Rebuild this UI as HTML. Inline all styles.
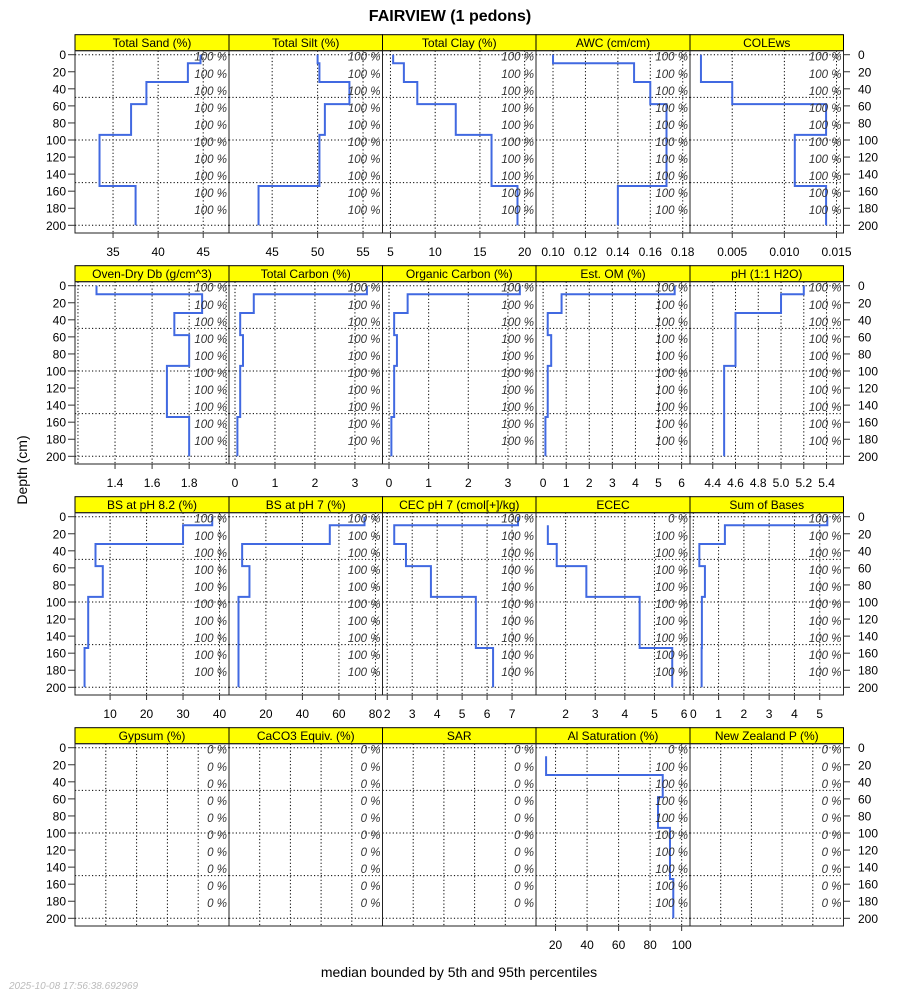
<!DOCTYPE html>
<html><head><meta charset="utf-8">
<style>
html,body{margin:0;padding:0;background:#fff;}
svg{display:block;font-family:"Liberation Sans",sans-serif;}
</style></head>
<body>
<svg id="chart" width="900" height="1000" viewBox="0 0 900 1000" xmlns="http://www.w3.org/2000/svg">
<text x="450" y="21" text-anchor="middle" font-size="16" font-weight="bold">FAIRVIEW (1 pedons)</text>
<text x="0" y="0" transform="translate(27,470) rotate(-90)" text-anchor="middle" font-size="14">Depth (cm)</text>
<text x="459" y="977" text-anchor="middle" font-size="14">median bounded by 5th and 95th percentiles</text>
<text x="9" y="989" font-size="10" font-style="italic" fill="#bbb">2025-10-08 17:56:38.692969</text>
<g id="panels"></g>
</svg>
<script>
// horizon boundaries (cm)
const horizonTops = [0, 10, 32, 58, 94, 154];
const horizonBottoms = [10, 32, 58, 94, 154, 200];
const depthTicks = [0, 20, 40, 60, 80, 100, 120, 140, 160, 180, 200];
const depthGrid = [0, 50, 100, 150, 200];
const pctDepths = [0, 20, 40, 60, 80, 100, 120, 140, 160, 180];

const panelTitles = ["Total Sand (%)","Total Silt (%)","Total Clay (%)","AWC (cm/cm)","COLEws",
 "Oven-Dry Db (g/cm^3)","Total Carbon (%)","Organic Carbon (%)","Est. OM (%)","pH (1:1 H2O)",
 "BS at pH 8.2 (%)","BS at pH 7 (%)","CEC pH 7 (cmol[+]/kg)","ECEC","Sum of Bases",
 "Gypsum (%)","CaCO3 Equiv. (%)","SAR","Al Saturation (%)","New Zealand P (%)"];

const sandValues = [44.7, 43.3, 38.7, 37.0, 33.5, 37.5];
const siltValues = [50.0, 50.2, 53.5, 50.8, 50.2, 43.5];
const clayValues = [5.3, 6.5, 8.0, 12.3, 16.3, 19.2];
const awcValues = [0.10, 0.15, 0.16, 0.17, 0.17, 0.14];
const coleValues = [0.002, 0.002, 0.005, 0.014, 0.011, 0.014];
const dbValues = [1.30, 1.87, 1.72, 1.80, 1.68, 1.80];
const tcValues = [3.3, 0.47, 0.13, 0.2, 0.13, 0.06];
const ocValues = [3.3, 0.47, 0.13, 0.2, 0.13, 0.06];
const omValues = [5.7, 0.8, 0.2, 0.35, 0.2, 0.1];
const phValues = [5.2, 5.0, 4.6, 4.6, 4.5, 4.5];
const bs82Values = [38, 30, 6, 8, 4, 3];
const bs7Values = [74, 55, 7, 11, 5, 5];
const cecValues = [7.24, 2.28, 2.75, 3.75, 5.55, 6.24];
const ececValues = [null, 1.4, 1.7, 2.7, 4.5, 5.6];
const sbValues = [5.3, 1.25, 0.24, 0.46, 0.34, 0.33];
const gypsumValues = [null, null, null, null, null, null];
const caco3Values = [null, null, null, null, null, null];
const sarValues = [null, null, null, null, null, null];
const alsatValues = [null, 14, 88, 85, 92.6, 94.7];
const nzpValues = [null, null, null, null, null, null];

const panelValues = [sandValues, siltValues, clayValues, awcValues, coleValues,
 dbValues, tcValues, ocValues, omValues, phValues,
 bs82Values, bs7Values, cecValues, ececValues, sbValues,
 gypsumValues, caco3Values, sarValues, alsatValues, nzpValues];

const panelTickLabels = [["35","40","45"],["45","50","55"],["5","10","15","20"],["0.10","0.12","0.14","0.16","0.18"],["0.005","0.010","0.015"],
 ["1.4","1.6","1.8"],["0","1","2","3"],["0","1","2","3"],["0","1","2","3","4","5","6"],["4.4","4.6","4.8","5.0","5.2","5.4"],
 ["10","20","30","40"],["20","40","60","80"],["2","3","4","5","6","7"],["2","3","4","5","6"],["0","1","2","3","4","5"],
 [],[],[],["20","40","60","80","100"],[]];
const panelMinorTicks = [[],[],[],[],[],["1.2","2.0"],[],[],[],["4.2"],[],[],[],[],[],["1","2","3","4"],["1","2","3","4"],["1","2","3","4"],[],["1","2","3","4"]];

const panelDomains = [[30.78,47.86],[40.25,57.14],[4.11,21.27],[0.0895,0.1845],[0.00095,0.01567],
 [1.184,2.015],[-0.15,3.69],[-0.164,3.708],[-0.308,6.364],[4.2,5.549],
 [0.38,42.6],[-0.2,83.86],[1.81,7.96],[1.0,6.2],[-0.13,5.94],
 [0,5],[0,5],[0,5],[7.6,105.3],[0,5]];

const colLefts = [75, 229, 382.5, 536, 690, 843.5];
const NS = "http://www.w3.org/2000/svg";
const root = document.getElementById("panels");
function mk(tag, attrs, parent) {
  const e = document.createElementNS(NS, tag);
  for (const k in attrs) e.setAttribute(k, attrs[k]);
  (parent || root).appendChild(e);
  return e;
}
const rowStep = 231;
function yScale(r, d) { return 54.7 + rowStep * r + 0.853 * d; }

for (let p = 0; p < 20; p++) {
  const r = Math.floor(p / 5), c = p % 5;
  const L = colLefts[c], R = colLefts[c + 1];
  const dom = panelDomains[p];
  const xs = v => L + (v - dom[0]) / (dom[1] - dom[0]) * (R - L);
  const top = 50.7 + rowStep * r, bot = 233 + rowStep * r;
  const g = mk("g", {});
  
  
  // grid
  const gridVals = panelTickLabels[p].concat(panelMinorTicks[p]);
  gridVals.forEach(t => {
    const x = xs(parseFloat(t));
    const gl = mk("line", {x1: x, x2: x, y1: top, y2: bot, stroke: "#000", "stroke-width": 1, "stroke-dasharray": "1.2,2.2"}, g);
    
    
  });
  depthGrid.forEach(d => {
    const y = yScale(r, d);
    const gl = mk("line", {x1: L, x2: R, y1: y, y2: y, stroke: "#000", "stroke-width": 1, "stroke-dasharray": "1.2,2.2"}, g);
    
    
  });
  // series
  const vals = panelValues[p];
  let pts = [];
  for (let i = 0; i < vals.length; i++) {
    if (vals[i] === null) continue;
    const x = xs(vals[i]);
    pts.push(x + "," + yScale(r, horizonTops[i]));
    pts.push(x + "," + yScale(r, horizonBottoms[i]));
  }
  if (pts.length) {
    const ln = mk("polyline", {points: pts.join(" "), fill: "none", stroke: "#4169E1", "stroke-width": 2, "stroke-linejoin": "miter"}, g);
    
    
  }
  // pct labels
  const empty = vals.every(v => v === null);
  pctDepths.forEach((d, i) => {
    let lbl = "100 %";
    if (empty) lbl = "0 %";
    else if (i === 0 && vals[0] === null) lbl = "0 %";
    const t = mk("text", {x: R - 2, y: yScale(r, d) + 6, "text-anchor": "end", "font-size": 11.5, "font-style": "italic", fill: "#333"}, g);
    t.textContent = lbl;
    
    
  });
  // strip
  const st = mk("rect", {x: L, y: 34.7 + rowStep * r, width: R - L, height: 16, fill: "#ffff00", stroke: "#000", "stroke-width": 1}, g);
  
  
  const stt = mk("text", {x: (L + R) / 2, y: 47 + rowStep * r, "text-anchor": "middle", "font-size": 12}, g);
  stt.textContent = panelTitles[p];
  
  
  // box
  const bx = mk("rect", {x: L, y: top, width: R - L, height: bot - top, fill: "none", stroke: "#222", "stroke-width": 1}, g);
  
  
  // x ticks
  panelTickLabels[p].forEach(t => {
    const x = xs(parseFloat(t));
    const tk = mk("line", {x1: x, x2: x, y1: bot, y2: bot + 5, stroke: "#333"}, g);
    
    
    const tl = mk("text", {x: x, y: bot + 23, "text-anchor": "middle", "font-size": 12}, g);
    tl.textContent = t;
    
    
  });
}
// depth axes
for (let r = 0; r < 4; r++) {
  depthTicks.forEach(d => {
    const y = yScale(r, d);
    const a = mk("line", {x1: 68, x2: 75, y1: y, y2: y, stroke: "#333"});
    
    
    const b = mk("line", {x1: 843.5, x2: 850, y1: y, y2: y, stroke: "#333"});
    
    
    const t1 = mk("text", {x: 66, y: y + 4.5, "text-anchor": "end", "font-size": 12});
    t1.textContent = d;
    
    
    const t2 = mk("text", {x: 858, y: y + 4.5, "text-anchor": "start", "font-size": 12});
    t2.textContent = d;
    
    
  });
}
</script>
</body></html>
